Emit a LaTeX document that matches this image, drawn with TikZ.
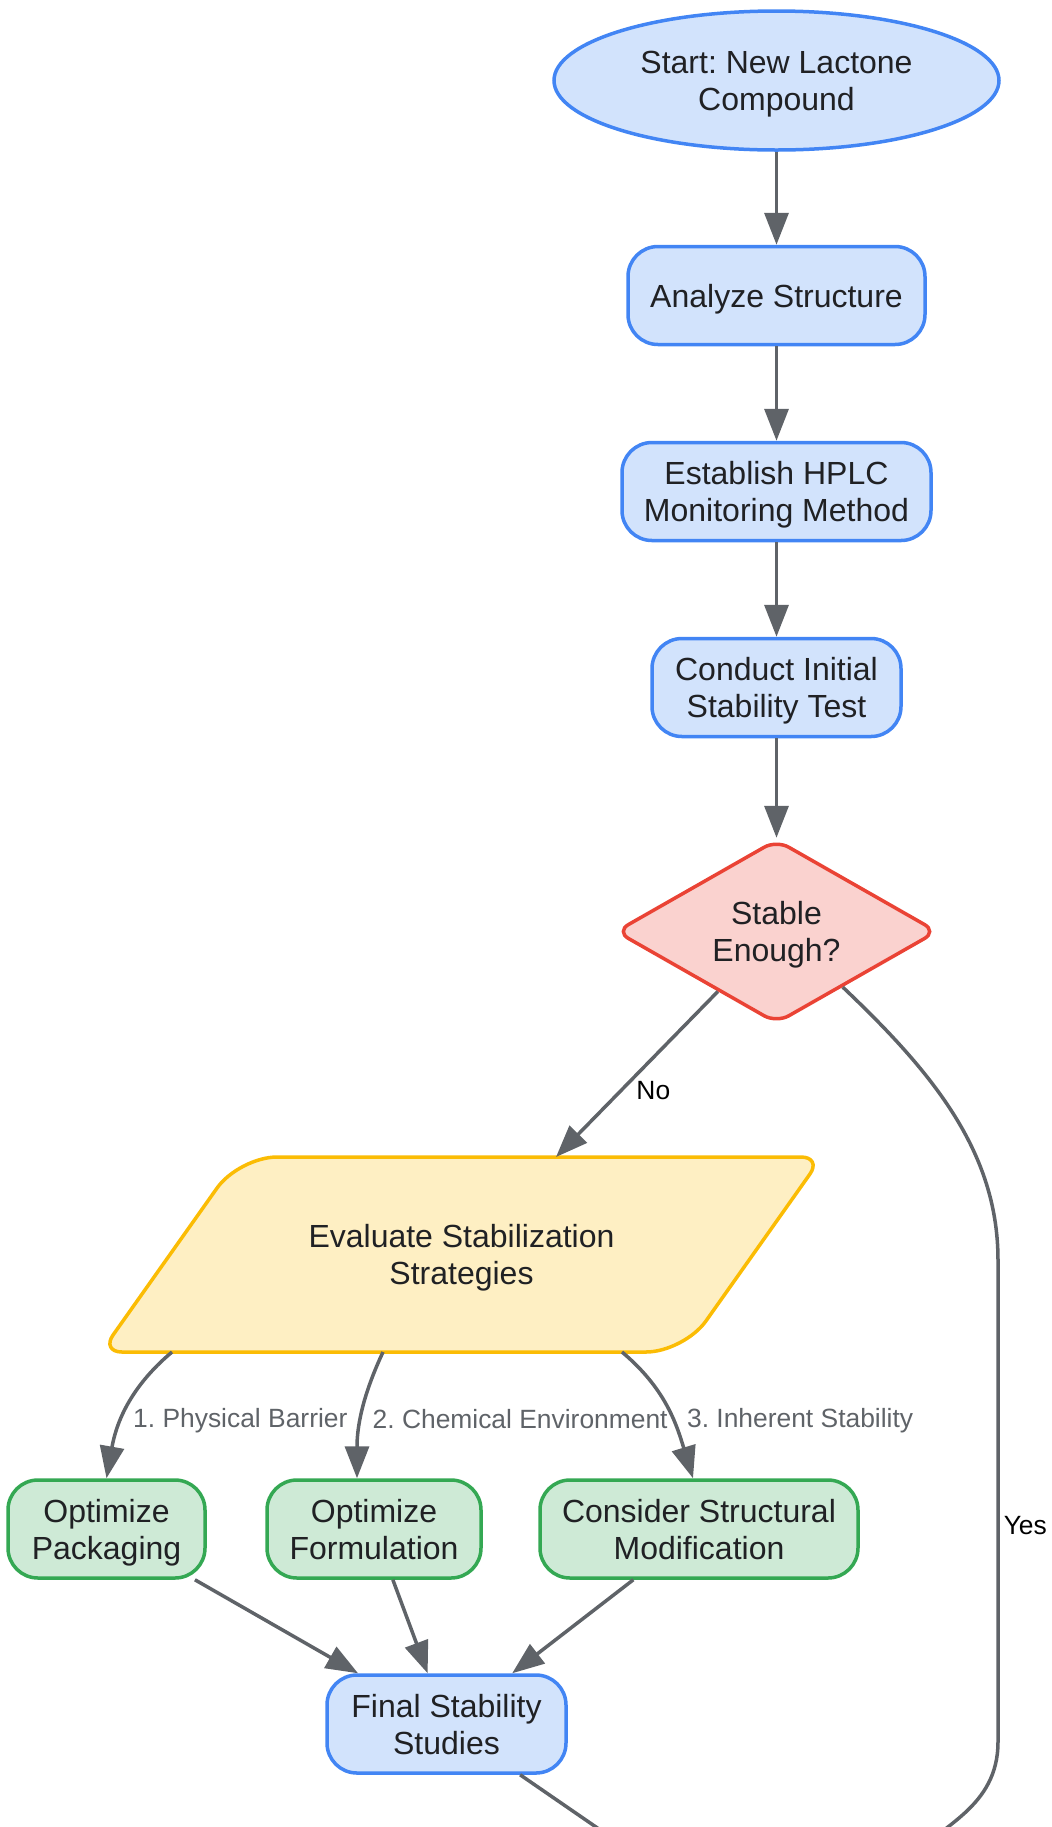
\documentclass[tikz,border=0pt]{standalone}
\usepackage{fontspec}
\setmainfont{Liberation Sans}
\usetikzlibrary{arrows.meta,calc,shapes.geometric,backgrounds}
\frenchspacing

\definecolor{gblue}{HTML}{4285F4}
\definecolor{gbluefill}{HTML}{D2E3FC}
\definecolor{gred}{HTML}{EA4335}
\definecolor{gredfill}{HTML}{FAD2CF}
\definecolor{gyellow}{HTML}{FBBC04}
\definecolor{gyellowfill}{HTML}{FEEFC3}
\definecolor{ggreen}{HTML}{34A853}
\definecolor{ggreenfill}{HTML}{CEEAD6}
\definecolor{ggray}{HTML}{5F6368}
\definecolor{gtext}{HTML}{202124}

\newcommand{\boxfont}{\fontsize{16}{18.5}\selectfont}
\newcommand{\labelfont}{\fontsize{13.2}{15}\selectfont}

\tikzset{
  base/.style={align=center, inner sep=0pt, text=gtext, font=\boxfont, text depth=0pt, line width=1.75pt},
  bluebox/.style={base, rectangle, rounded corners=15pt, draw=gblue, fill=gbluefill, minimum height=49pt},
  greenbox/.style={base, rectangle, rounded corners=15pt, draw=ggreen, fill=ggreenfill, minimum height=49pt},
  startbox/.style={base, ellipse, draw=gblue, fill=gbluefill},
  decision/.style={base, diamond, shape aspect=1.77, rounded corners=7pt, draw=gred, fill=gredfill},
  leanbox/.style={base, rectangle},
  leanline/.style={line width=1.75pt, draw=gyellow, fill=gyellowfill},
  flow/.style={draw=ggray, line width=1.75pt, -{Triangle[length=16pt,width=12pt]}},
  edgelabel/.style={font=\labelfont, text=ggray, inner sep=2pt},
  answer/.style={font=\labelfont, text=black, inner sep=2pt}
}

\begin{document}
\begin{tikzpicture}[x=0.5pt,y=0.5pt]
			%%%%% START %%%%%
			\def\rbig{19pt}
			\def\rsmall{10.5pt}
			\def\colx{776.5}
			\def\rowy{-1529}
			\def\halfw{360.5}
			\def\halfh{97.5}
			\def\slant{138}

			\useasboundingbox (0,0) rectangle (1051,-1827);
			\clip (0,0) rectangle (1051,-1827);

			\node[startbox, minimum width=222.5pt, minimum height=69.5pt] (start) at (\colx,-80.5) {Start: New Lactone\\Compound};
			\node[bluebox, minimum width=148.5pt] (analyze) at (\colx,-295.5) {Analyze Structure};
			\node[bluebox, minimum width=154.5pt] (hplc) at (\colx,-491.5) {Establish HPLC\\Monitoring Method};
			\node[bluebox, minimum width=124.5pt] (initial) at (\colx,-687.5) {Conduct Initial\\Stability Test};
			\node[decision, minimum width=161pt, minimum height=92pt] (stable) at (\colx,-931.5) {Stable\\Enough?};
			\node[leanbox] (eval) at (461.5,-1254.5) {Evaluate Stabilization\\Strategies};

			% lean-right outline behind the text
			\begin{scope}[on background layer]
				\draw[leanline] ($(eval.center)+(-\slant/2,-\halfh)$) [rounded corners=\rbig] -- ($(eval.center)+(\halfw-\slant,-\halfh)$) [rounded corners=\rsmall] -- ($(eval.center)+(\halfw,\halfh)$) [rounded corners=\rbig] -- ($(eval.center)+(\slant-\halfw,\halfh)$) [rounded corners=\rsmall] -- ($(eval.center)+(-\halfw,-\halfh)$) -- cycle;
			\end{scope}

			\node[greenbox, minimum width=98.5pt] (pack) at (106.5,\rowy) {Optimize\\Packaging};
			\node[greenbox, minimum width=107pt] (form) at (374,\rowy) {Optimize\\Formulation};
			\node[greenbox, minimum width=159pt] (cons) at (699,\rowy) {Consider Structural\\Modification};
			\node[bluebox, minimum width=119.5pt] (final) at (446.5,-1724) {Final Stability\\Studies};

			% main line
			\draw[flow] (start) -- (analyze);
			\draw[flow] (analyze) -- (hplc);
			\draw[flow] (hplc) -- (initial);
			\draw[flow] (initial) -- (stable);

			% decision
			\coordinate (noend) at ($(eval.center)+(94.5,\halfh)$);
			\draw[flow] (stable) -- node[answer, pos=0.6, right=5pt] {No} (noend);

			\coordinate (yesA) at (998,-1260);
			\coordinate (yesB) at (998,-1742);
			\coordinate (doneB) at (900,-1880);
			\draw[flow] (stable.-40) .. controls (930,-1070) and (998,-1150) .. (yesA) -- node[answer, pos=0.55, right] {Yes} (yesB) to[out=-90,in=55] (doneB);

			% strategies
			\coordinate (out1) at ($(eval.center)+(-289.5,-\halfh)$);
			\coordinate (out2) at ($(eval.center)+(-78.5,-\halfh)$);
			\coordinate (out3) at ($(eval.center)+(160.5,-\halfh)$);
			\draw[flow] (out1) to[out=-140,in=80] node[edgelabel, pos=0.6, right=3pt] {1. Physical Barrier} (pack.north);
			\draw[flow] (out2) to[out=-115,in=90] node[edgelabel, pos=0.55, right=3pt] {2. Chemical Environment} ($(form.north)+(-17,0)$);
			\draw[flow] (out3) to[out=-40,in=107] node[edgelabel, pos=0.6, right=4pt] {3. Inherent Stability} ($(cons.north)+(-6,0)$);

			\draw[flow] (pack) -- (final);
			\draw[flow] (form) -- (final);
			\draw[flow] (cons) -- (final);

			\coordinate (doneA) at (766,-1944);
			\draw[flow] (final) -- (doneA);
			%%%%% END %%%%%
\end{tikzpicture}
\end{document}
